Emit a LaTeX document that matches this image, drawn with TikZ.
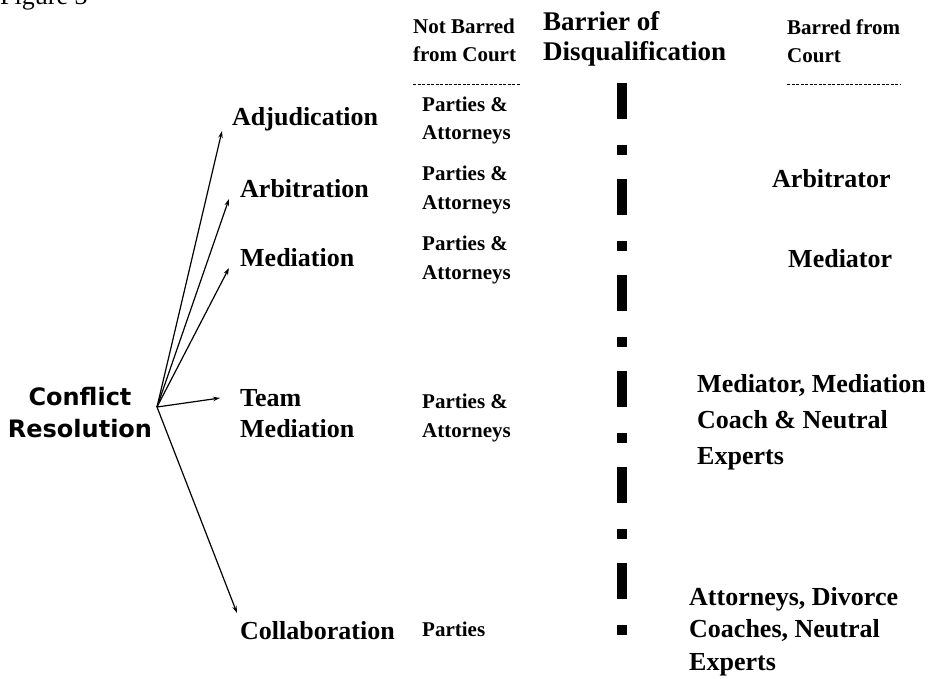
\documentclass[tikz,border=0pt]{standalone}
\usepackage{fontspec}
\setmainfont{Liberation Serif}
\newfontfamily\crfont{DejaVu Sans}
\usetikzlibrary{arrows.meta}

\begin{document}
\begin{tikzpicture}[x=1pt, y=-1pt,
  method/.style={anchor=base west, inner sep=0pt, align=left, font=\fontsize{26}{31}\selectfont\bfseries},
  colitem/.style={anchor=base west, inner sep=0pt, align=left, font=\fontsize{21}{28.5}\selectfont\bfseries},
  barred/.style={anchor=base west, inner sep=0pt, align=left, font=\fontsize{26}{36}\selectfont\bfseries},
  arrow/.style={-{Stealth[length=7pt, width=4.5pt]}, line width=1.2pt},
  dashrule/.style={line width=1pt, dash pattern=on 3pt off 1.5pt},
  barrier/.style={line width=10pt, dash pattern=on 36pt off 26pt on 10pt off 24pt}
]
  \useasboundingbox (0,0) rectangle (936,679);

  \node[anchor=base west, inner sep=0pt, font=\fontsize{26}{31}\selectfont] (fig) at (0,5) {Figure 3};

  % column heads
  \node[colitem] (nbhead) at (413,62) {Not Barred\\from Court};
  \node[colitem, font=\fontsize{27}{30}\selectfont\bfseries] (barhead) at (543,61) {Barrier of\\Disqualification};
  \node[colitem] (bhead) at (787,63) {Barred from\\Court};
  \draw[dashrule] (413,85) -- (520,85);
  \draw[dashrule] (787,85) -- (900,85);

  % conflict resolution and its methods
  \node[anchor=base, inner sep=0pt, align=center, font=\fontsize{24}{32}\selectfont\crfont\bfseries] (cr) at (80,437) {Conflict\\Resolution};
  \node[method] (adj) at (232,126) {Adjudication};
  \node[method] (arb) at (240,197) {Arbitration};
  \node[method] (med) at (240,266) {Mediation};
  \node[method] (team) at (240,437) {Team\\Mediation};
  \node[method] (collab) at (240,639) {Collaboration};

  \coordinate (hub) at (157,407);
  \coordinate (adjtip) at (222,131);
  \coordinate (arbtip) at (229,199);
  \coordinate (medtip) at (229,268);
  \coordinate (teamtip) at (220,398);
  \coordinate (collabtip) at (237,613);
  \draw[arrow] (hub) -- (adjtip);
  \draw[arrow] (hub) -- (arbtip);
  \draw[arrow] (hub) -- (medtip);
  \draw[arrow] (hub) -- (teamtip);
  \draw[arrow] (hub) -- (collabtip);

  % not barred
  \node[colitem] (p1) at (422,140) {Parties \&\\Attorneys};
  \node[colitem] (p2) at (422,209) {Parties \&\\Attorneys};
  \node[colitem] (p3) at (422,279) {Parties \&\\Attorneys};
  \node[colitem] (p4) at (422,437) {Parties \&\\Attorneys};
  \node[colitem] (p5) at (422,636) {Parties};

  % barrier
  \coordinate (bartop) at (622,83);
  \coordinate (barbot) at (622,640);
  \draw[barrier] (bartop) -- (barbot);

  % barred
  \node[barred] (b2) at (772,188) {Arbitrator};
  \node[barred] (b3) at (788,267) {Mediator};
  \node[barred] (b4) at (697,464) {Mediator, Mediation\\Coach \& Neutral\\Experts};
  \node[barred, font=\fontsize{26}{32.5}\selectfont\bfseries] (b5) at (689,670) {Attorneys, Divorce\\Coaches, Neutral\\Experts};
\end{tikzpicture}
\end{document}
